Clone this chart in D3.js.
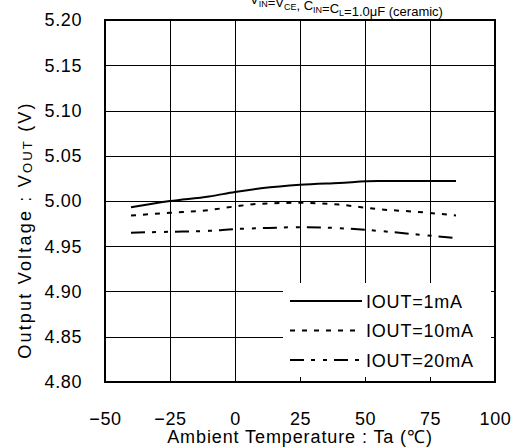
<!DOCTYPE html>
<html>
<head>
<meta charset="utf-8">
<script src="https://cdn.jsdelivr.net/npm/d3@7"></script>
<style>
  body { margin: 0; background: #fff; }
  text { font-family: "Liberation Sans", Arial, sans-serif; fill: #000; }
</style>
</head>
<body>
<div id="chart"></div>
<script>
// ambient temperature (deg C) and output voltage for each load current
var temps = [-40, -25, -10, 0, 10, 25, 40, 55, 70, 85];
var vout1mA  = [4.993, 5.000, 5.005, 5.010, 5.014, 5.018, 5.020, 5.022, 5.022, 5.022];
var vout10mA = [4.984, 4.987, 4.990, 4.994, 4.997, 4.998, 4.996, 4.991, 4.988, 4.984];
var vout20mA = [4.965, 4.966, 4.967, 4.969, 4.970, 4.971, 4.970, 4.967, 4.963, 4.959];
var seriesNames = ["IOUT=1mA", "IOUT=10mA", "IOUT=20mA"];
var xTicks = [-50, -25, 0, 25, 50, 75, 100];
var yTicks = [4.80, 4.85, 4.90, 4.95, 5.00, 5.05, 5.10, 5.15, 5.20];

var W = 514, H = 448,
    margin = {top: 20, right: 19, bottom: 66, left: 105},
    width = W - margin.left - margin.right,
    height = H - margin.top - margin.bottom;

var dashes = [null, "5,7", "14,7,4,8,4,7"];

var x = d3.scaleLinear().domain([-50, 100]).range([0, width]);
var y = d3.scaleLinear().domain([4.80, 5.20]).range([height, 0]);

var svg = d3.select("#chart").append("svg")
    .attr("width", W)
    .attr("height", H);

// condition line at the very top, mostly cut off (as in the source sheet)
var sub = svg.append("text")
    .attr("x", 250)
    .attr("y", 4)
    .style("font-size", "13px");
[["V", "IN"], ["=V", "CE"], [", C", "IN"], ["=C", "L"], ["=1.0\u03bcF (ceramic)", null]].forEach(function(p) {
  sub.append("tspan").text(p[0]);
  if (p[1]) {
    sub.append("tspan").attr("dy", 3).style("font-size", "9px").text(p[1]);
    sub.append("tspan").attr("dy", -3).text("");
  }
});

var g = svg.append("g")
    .attr("transform", "translate(" + margin.left + "," + margin.top + ")");

// grid
g.append("g")
    .attr("class", "grid")
  .selectAll("line.v")
    .data(xTicks.slice(1, -1))
  .enter().append("line")
    .attr("x1", function(d) { return Math.round(x(d)) + 0.5; })
    .attr("x2", function(d) { return Math.round(x(d)) + 0.5; })
    .attr("y1", 0)
    .attr("y2", height)
    .attr("stroke", "#000")
    .attr("stroke-width", 1);

g.select(".grid").selectAll("line.h")
    .data(yTicks.slice(1, -1))
  .enter().append("line")
    .attr("x1", 0)
    .attr("x2", width)
    .attr("y1", function(d) { return Math.round(y(d)) + 0.5; })
    .attr("y2", function(d) { return Math.round(y(d)) + 0.5; })
    .attr("stroke", "#000")
    .attr("stroke-width", 1);

// axes (labels only, grid does the lines)
var xAxis = g.append("g")
    .attr("transform", "translate(0," + height + ")")
    .call(d3.axisBottom(x).tickValues(xTicks).tickSize(0).tickPadding(30)
      .tickFormat(function(d) { return d < 0 ? "\u2212" + Math.abs(d) : d; }));
var yAxis = g.append("g")
    .call(d3.axisLeft(y).tickValues(yTicks).tickSize(0).tickPadding(23)
      .tickFormat(d3.format(".2f")));
[xAxis, yAxis].forEach(function(a) {
  a.select(".domain").remove();
  a.selectAll("text")
      .style("font-family", "'Liberation Sans', Arial, sans-serif")
      .style("font-size", "18px")
      .style("letter-spacing", "0.6px");
});

// curves
var line = d3.line()
    .x(function(d) { return x(d[0]); })
    .y(function(d) { return y(d[1]); })
    .curve(d3.curveMonotoneX);

[vout1mA, vout10mA, vout20mA].forEach(function(vals, i) {
  g.append("path")
      .datum(temps.map(function(t, j) { return [t, vals[j]]; }))
      .attr("d", line)
      .attr("fill", "none")
      .attr("stroke", "#000")
      .attr("stroke-width", 2)
      .attr("stroke-dasharray", dashes[i]);
});

// legend
var leg = g.append("g").attr("transform", "translate(" + (283 - margin.left) + "," + (283 - margin.top) + ")");
leg.append("rect")
    .attr("width", 208)
    .attr("height", 94)
    .attr("fill", "#fff");
seriesNames.forEach(function(name, i) {
  var ly = 18 + i * 29.5;
  leg.append("line")
      .attr("x1", 7).attr("x2", 79)
      .attr("y1", ly).attr("y2", ly)
      .attr("stroke", "#000")
      .attr("stroke-width", 2)
      .attr("stroke-dasharray", dashes[i]);
  leg.append("text")
      .attr("x", 83)
      .attr("y", ly + 6.5)
      .style("font-size", "18px")
      .style("letter-spacing", "0.8px")
      .text(name);
});

// frame
g.append("rect")
    .attr("width", width)
    .attr("height", height)
    .attr("fill", "none")
    .attr("stroke", "#000")
    .attr("stroke-width", 2);

// axis titles
svg.append("text")
    .attr("x", margin.left + width / 2)
    .attr("y", 443)
    .attr("text-anchor", "middle")
    .style("font-size", "18px")
    .style("letter-spacing", "0.9px")
    .text("Ambient Temperature : Ta (\u2103)");

var yt = svg.append("text")
    .attr("transform", "translate(31,230) rotate(-90)")
    .attr("text-anchor", "middle")
    .style("font-size", "18px")
    .style("letter-spacing", "2.2px");
yt.append("tspan").text("Output Voltage : V");
yt.append("tspan").attr("dy", 1).style("font-size", "13px").text("OUT");
yt.append("tspan").attr("dy", -1).text(" (V)");
</script>
</body>
</html>
